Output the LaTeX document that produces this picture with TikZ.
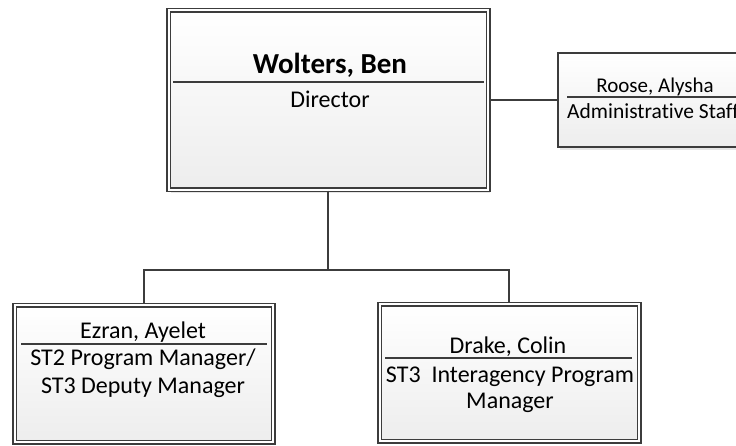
\documentclass[tikz,border=0pt]{standalone}
\usepackage{fontspec}
\setmainfont{Carlito}[Ligatures=NoCommon]
\usetikzlibrary{shadows}
\definecolor{boxgray}{HTML}{3C3C3C}
\definecolor{boxfill}{HTML}{EDEDED}
\tikzstyle{org-box} = [draw=boxgray, line width=1.5pt, double=white,
    double distance=2pt, top color=white, bottom color=boxfill,
    rectangle, inner sep=0pt,
    drop shadow={shadow xshift=2pt, shadow yshift=-3pt, fill=black, opacity=0.10}]
\tikzstyle{staff-box} = [draw=boxgray, line width=1.5pt, top color=white,
    bottom color=boxfill, rectangle, inner sep=0pt,
    drop shadow={shadow xshift=2pt, shadow yshift=-3pt, fill=black, opacity=0.10}]
\tikzstyle{org-line} = [draw=boxgray, line width=2pt]
\tikzstyle{rule-line} = [draw=boxgray, line width=1.2pt]
\tikzstyle{org-text} = [inner sep=0pt, align=center, text=black,
    font=\fontsize{24}{28}\selectfont]
\newcommand{\headname}{\fontsize{29}{34}\selectfont\bfseries}

\begin{document}
\begin{tikzpicture}[x=1pt, y=-1pt]
\clip (0,0) rectangle (736,446);
% boxes
\node [org-box, minimum width=319.5pt, minimum height=179.5pt] (dir) at (328.25,100.25) {};
\node [staff-box, minimum width=220pt, minimum height=94pt] (roose) at (668,100) {};
\node [org-box, minimum width=258.3pt, minimum height=137pt] (ezran) at (143.85,373.5) {};
\node [org-box, minimum width=259.5pt, minimum height=137pt] (drake) at (509.25,372.5) {};
% connectors
\coordinate (bus) at (dir.south |- 0,270);
\draw [org-line] (dir.south) -- (bus) -| (ezran.north);
\draw [org-line] (bus) -| (drake.north);
\draw [org-line] (roose.west) -- (roose.west -| dir.east);
% Director
\node [org-text] (dir-name) at (330,65) {\headname Wolters, Ben};
\draw [rule-line] (173,82) -- (484,82);
\node [org-text] (dir-title) at (330,99) {Director};
% staff
\node [org-text, font=\fontsize{21}{25}\selectfont] (roose-name) at (655,87) {Roose, Alysha};
\draw [rule-line] (567,97) -- (740,97);
\node [org-text, anchor=west, font=\fontsize{21.5}{25}\selectfont] (roose-title) at (567,111) {Administrative Staff};
% reports
\node [org-text] (ezran-name) at (143,332) {Ezran, Ayelet};
\draw [rule-line] (21,344) -- (267,344);
\node [org-text] (ezran-title) at (143,373) {ST2 Program Manager/\\[0pt]ST3 Deputy Manager};
\node [org-text] (drake-name) at (508,347) {Drake, Colin};
\draw [rule-line] (385,358) -- (632,358);
\node [org-text, font=\fontsize{24}{26}\selectfont] (drake-title) at (510,390) {ST3\ \ Interagency Program\\Manager};
\end{tikzpicture}
\end{document}
